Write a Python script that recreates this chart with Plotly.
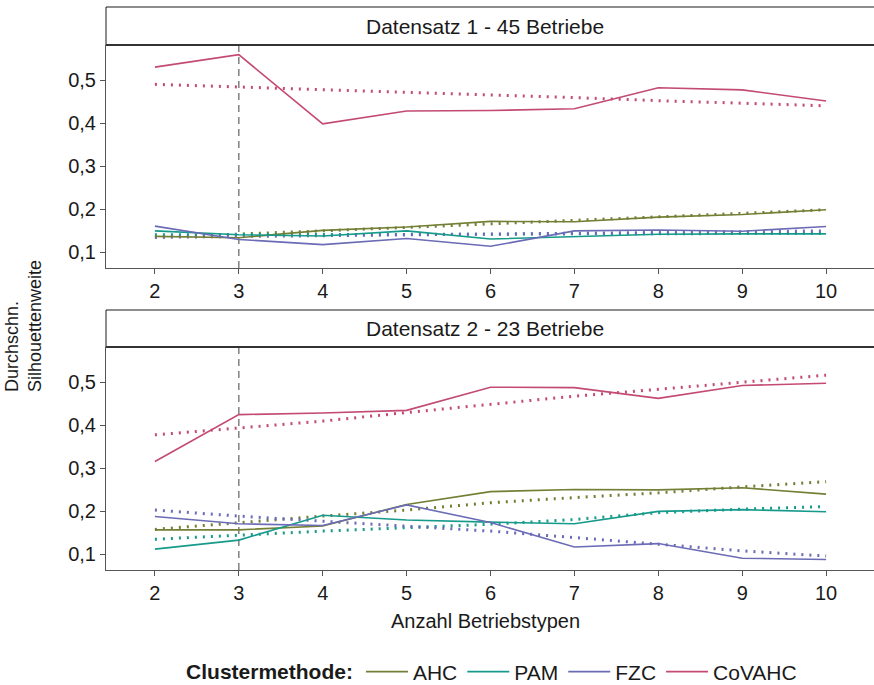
import plotly.graph_objects as go

# Anzahl Betriebstypen (k)
k = [2, 3, 4, 5, 6, 7, 8, 9, 10]
methods = ["AHC", "PAM", "FZC", "CoVAHC"]
colors = {"AHC": "#727f34", "PAM": "#169a8b", "FZC": "#6b6bb6", "CoVAHC": "#c34a72"}

panel_titles = ["Datensatz 1 - 45 Betriebe", "Datensatz 2 - 23 Betriebe"]

# Datensatz 1: durchschnittliche Silhouettenweite
d1_AHC = [0.137, 0.134, 0.151, 0.159, 0.172, 0.171, 0.182, 0.188, 0.199]
d1_PAM = [0.150, 0.141, 0.138, 0.150, 0.131, 0.136, 0.142, 0.143, 0.143]
d1_FZC = [0.161, 0.130, 0.118, 0.132, 0.114, 0.150, 0.152, 0.149, 0.160]
d1_CoVAHC = [0.531, 0.560, 0.399, 0.429, 0.430, 0.434, 0.483, 0.478, 0.452]
# Datensatz 1: Trend
d1_AHC_trend = [0.135, 0.142, 0.150, 0.158, 0.166, 0.175, 0.183, 0.191, 0.199]
d1_PAM_trend = [0.141, 0.141, 0.142, 0.142, 0.142, 0.143, 0.143, 0.144, 0.144]
d1_FZC_trend = [0.135, 0.137, 0.139, 0.140, 0.142, 0.144, 0.146, 0.148, 0.150]
d1_CoVAHC_trend = [0.491, 0.485, 0.479, 0.472, 0.466, 0.460, 0.453, 0.447, 0.441]

# Datensatz 2: durchschnittliche Silhouettenweite
d2_AHC = [0.157, 0.157, 0.166, 0.216, 0.246, 0.251, 0.250, 0.255, 0.240]
d2_PAM = [0.112, 0.133, 0.191, 0.180, 0.175, 0.171, 0.200, 0.204, 0.199]
d2_FZC = [0.188, 0.171, 0.167, 0.215, 0.174, 0.117, 0.125, 0.091, 0.088]
d2_CoVAHC = [0.316, 0.425, 0.429, 0.435, 0.489, 0.488, 0.463, 0.493, 0.498]
# Datensatz 2: Trend
d2_AHC_trend = [0.158, 0.174, 0.189, 0.203, 0.220, 0.232, 0.243, 0.257, 0.269]
d2_PAM_trend = [0.135, 0.145, 0.154, 0.162, 0.170, 0.181, 0.197, 0.205, 0.211]
d2_FZC_trend = [0.203, 0.189, 0.177, 0.166, 0.154, 0.139, 0.123, 0.108, 0.096]
d2_CoVAHC_trend = [0.378, 0.394, 0.410, 0.430, 0.449, 0.468, 0.484, 0.500, 0.517]

y_tickvals = [0.1, 0.2, 0.3, 0.4, 0.5]
y_ticktext = ["0,1", "0,2", "0,3", "0,4", "0,5"]
selected_k = 3

datasets = [
    {"AHC": d1_AHC, "PAM": d1_PAM, "FZC": d1_FZC, "CoVAHC": d1_CoVAHC},
    {"AHC": d2_AHC, "PAM": d2_PAM, "FZC": d2_FZC, "CoVAHC": d2_CoVAHC},
]
trends = [
    {"AHC": d1_AHC_trend, "PAM": d1_PAM_trend, "FZC": d1_FZC_trend, "CoVAHC": d1_CoVAHC_trend},
    {"AHC": d2_AHC_trend, "PAM": d2_PAM_trend, "FZC": d2_FZC_trend, "CoVAHC": d2_CoVAHC_trend},
]

FONT = "Liberation Sans, Arial, sans-serif"
TEXT_COL = "#1a1a1a"
AXIS_COL = "#555555"

fig = go.Figure()

# panel domains (paper fractions), plus strip bands above each panel
panel_dom = [(0.5364, 0.9325), (0.0, 0.3961)]
strip_dom = [(0.9325, 1.0), (0.3961, 0.4618)]
axes = [("x", "y"), ("x2", "y2")]

for p in range(2):
    xa, ya = axes[p]
    # trend lines first (dotted)
    for m in methods:
        fig.add_trace(go.Scatter(
            x=k, y=trends[p][m], mode="lines", xaxis=xa, yaxis=ya,
            line=dict(color=colors[m], width=3, dash="2px,6px"),
            showlegend=False, hoverinfo="skip"))
    for m in methods:
        fig.add_trace(go.Scatter(
            x=k, y=datasets[p][m], mode="lines", xaxis=xa, yaxis=ya,
            name=m, legendgroup=m, showlegend=(p == 0),
            line=dict(color=colors[m], width=1.6)))

xaxis_common = dict(
    range=[1.417, 10.571], tickvals=k, ticktext=[str(v) for v in k],
    showgrid=False, zeroline=False, showline=True, linecolor=AXIS_COL, linewidth=1,
    ticks="outside", ticklen=5, tickcolor=AXIS_COL, tickwidth=1,
    tickfont=dict(family=FONT, size=20, color=TEXT_COL))
yaxis_common = dict(
    range=[0.0635, 0.5825], tickvals=y_tickvals, ticktext=y_ticktext,
    showgrid=False, zeroline=False, showline=True, linecolor=AXIS_COL, linewidth=1,
    ticks="outside", ticklen=5, tickcolor=AXIS_COL, tickwidth=1,
    tickfont=dict(family=FONT, size=20, color=TEXT_COL))

fig.update_layout(
    xaxis=dict(domain=[0, 1], anchor="y", **xaxis_common),
    yaxis=dict(domain=list(panel_dom[0]), anchor="x", **yaxis_common),
    xaxis2=dict(domain=[0, 1], anchor="y2", **xaxis_common),
    yaxis2=dict(domain=list(panel_dom[1]), anchor="x2", **yaxis_common),
)

shapes = []
annotations = []
for p in range(2):
    xa, ya = axes[p]
    # vertical marker at the chosen number of types
    shapes.append(dict(type="line", xref=xa, yref=f"{ya} domain",
                       x0=selected_k, x1=selected_k, y0=0, y1=1,
                       line=dict(color="#808080", width=1.5, dash="7px,5px"),
                       layer="below"))
    # facet strip
    y0, y1 = strip_dom[p]
    shapes.append(dict(type="rect", xref="paper", yref="paper",
                       x0=0, x1=1.02, y0=y0, y1=y1,
                       fillcolor="white", line=dict(color=TEXT_COL, width=1)))
    shapes.append(dict(type="line", xref="paper", yref="paper",
                       x0=0, x1=1.02, y0=y0, y1=y0,
                       line=dict(color="#333333", width=2)))
    annotations.append(dict(text=panel_titles[p], xref="paper", yref="paper",
                            x=0.4935, y=(y0 + y1) / 2, showarrow=False,
                            xanchor="center", yanchor="middle",
                            font=dict(family=FONT, size=21, color=TEXT_COL)))

annotations.append(dict(text="Anzahl Betriebstypen", xref="paper", yref="paper",
                        x=0.4935, y=-0.0905, showarrow=False,
                        xanchor="center", yanchor="middle",
                        font=dict(family=FONT, size=20, color=TEXT_COL)))
annotations.append(dict(text="Durchschn.<br>Silhouettenweite", xref="paper", yref="paper",
                        x=-0.1068, y=0.4334, showarrow=False, textangle=-90,
                        align="left", xanchor="center", yanchor="middle",
                        font=dict(family=FONT, size=18, color=TEXT_COL)))

fig.update_layout(
    width=874, height=685,
    margin=dict(l=106, r=0, t=7, b=115),
    paper_bgcolor="white", plot_bgcolor="white",
    shapes=shapes, annotations=annotations,
    showlegend=True,
    legend=dict(
        orientation="h", xref="paper", x=0.504, xanchor="center",
        yref="container", y=0.019, yanchor="middle",
        title=dict(text="<b>Clustermethode:</b>", side="left",
                   font=dict(family=FONT, size=21, color=TEXT_COL)),
        font=dict(family=FONT, size=21, color=TEXT_COL),
        itemwidth=42, bgcolor="rgba(0,0,0,0)"),
)

fig.write_html("out.html")
